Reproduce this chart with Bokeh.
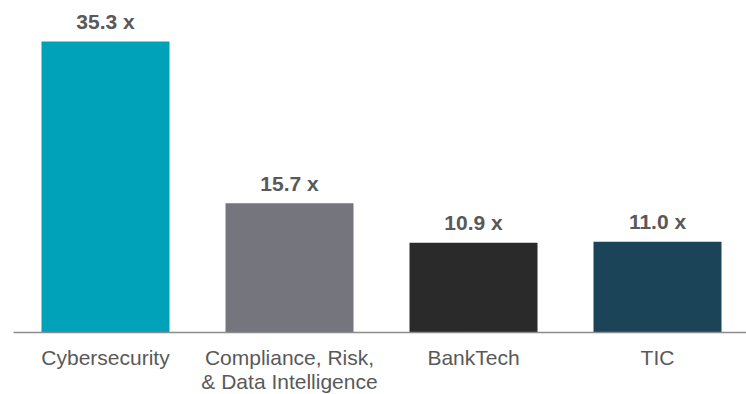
from bokeh.plotting import figure
from bokeh.models import ColumnDataSource, Range1d, FixedTicker
from bokeh.core.properties import value
from bokeh.embed import file_html
from bokeh.resources import INLINE

categories = ["Cybersecurity", "Compliance, Risk,\n& Data Intelligence", "BankTech", "TIC"]
values = [35.3, 15.7, 10.9, 11.0]
value_labels = ["35.3 x", "15.7 x", "10.9 x", "11.0 x"]
colors = ["#00A2BA", "#75757E", "#2A2A2A", "#1B4459"]

xs = list(range(len(categories)))
src = ColumnDataSource(dict(x=xs, v=values, lab=value_labels, c=colors))

FONT = "Liberation Sans"
TEXT = "#595959"

p = figure(frame_width=733, frame_height=332, output_backend="svg",
           toolbar_location=None,
           x_range=Range1d(-0.5, -0.5 + 733 / 184),
           y_range=Range1d(0, 40.29),
           min_border_left=13, min_border_right=0, min_border_top=0,
           min_border_bottom=62)
p.outline_line_color = None
p.grid.visible = False
p.yaxis.visible = False
p.background_fill_color = "white"
p.border_fill_color = "white"

p.vbar(x="x", top="v", bottom=0, width=128 / 184, fill_color="c",
       line_color=None, source=src)

p.text(x="x", y="v", text="lab", source=src, text_align="center",
       text_baseline="alphabetic", y_offset=-20,
       text_font=value(FONT), text_font_style="bold",
       text_font_size="21px", text_color=TEXT)

ax = p.xaxis[0]
ax.ticker = FixedTicker(ticks=xs)
ax.major_label_overrides = {i: c for i, c in zip(xs, categories)}
ax.major_tick_line_color = None
ax.minor_tick_line_color = None
ax.axis_line_color = "#8C8C8C"
ax.axis_line_width = 1.5
ax.major_label_text_font = FONT
ax.major_label_text_font_size = "21px"
ax.major_label_text_color = TEXT
ax.major_label_text_line_height = 1.07
ax.major_label_standoff = 7

open("out.html", "w").write(file_html(p, INLINE))
